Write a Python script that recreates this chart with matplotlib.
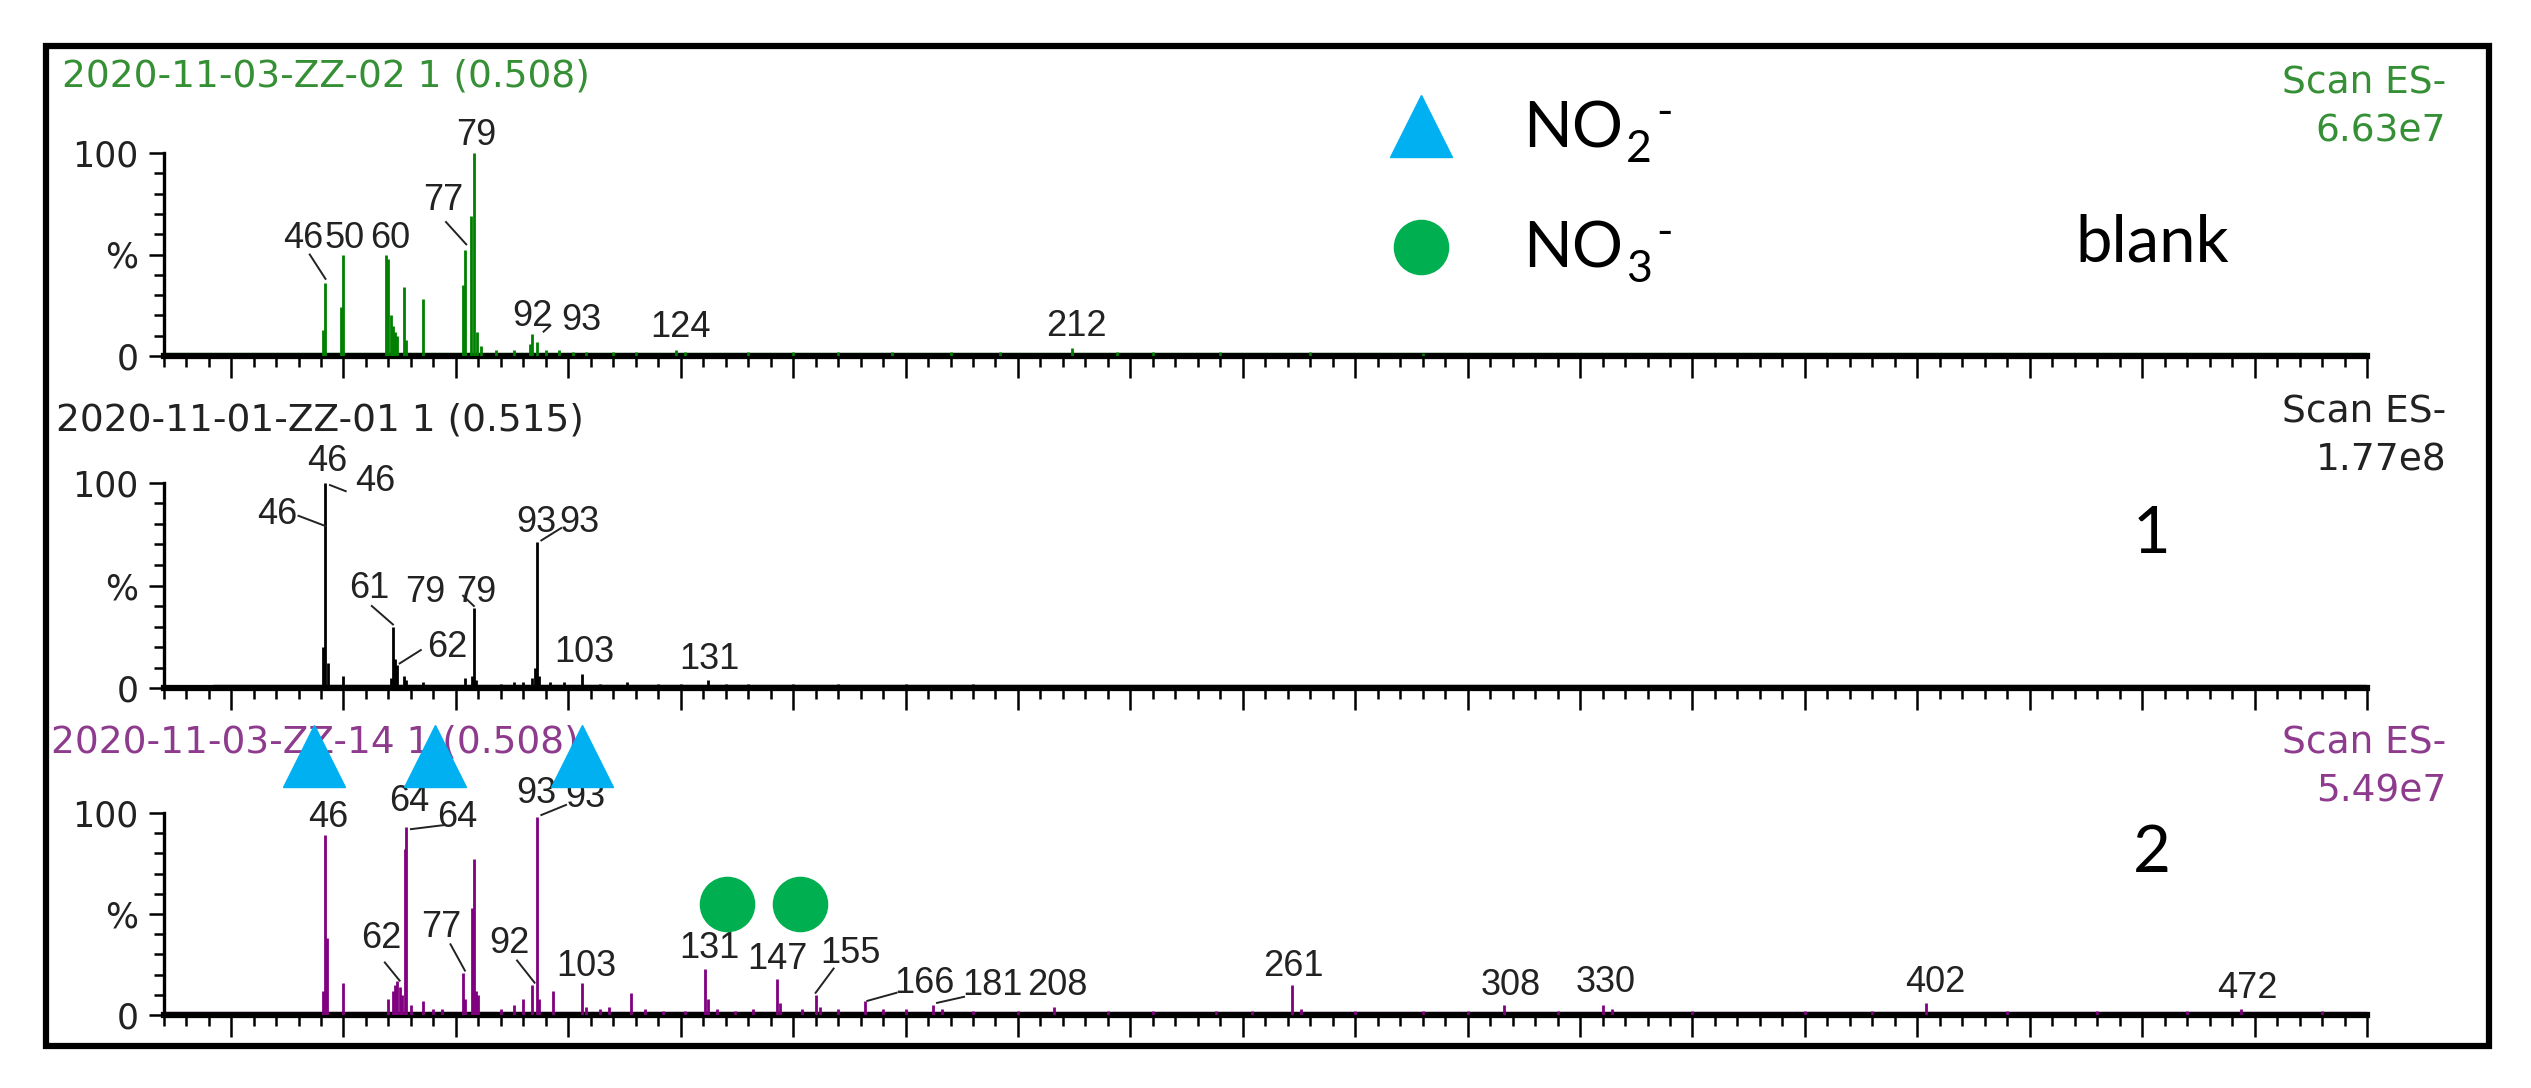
import matplotlib
matplotlib.use('Agg')
import matplotlib.pyplot as plt
from matplotlib import font_manager
from matplotlib.ticker import MultipleLocator, FixedLocator
from matplotlib.patches import Rectangle

# ---- data (m/z, relative intensity %) ----
blank_mz = [45.5, 46, 49.5, 50, 59.5, 60, 60.5, 61, 61.5, 62, 63.5, 64, 67.7,
            76.5, 77, 78.3, 79, 79.7, 80.5, 84, 88, 91.5, 92, 93, 95, 98, 101,
            104, 110, 115, 124, 126, 140, 150, 160, 172, 185, 196, 212, 222,
            230, 245, 265, 290]
blank_int = [13, 36, 24, 50, 50, 48, 20, 15, 12, 10, 34, 8, 28,
             35, 52, 69, 100, 12, 5, 3, 3, 6, 11, 7, 3, 3, 2,
             2, 2, 2, 3, 2, 2, 2, 2, 2, 2, 2, 4, 2,
             2, 2, 2, 1.5]

s1_mz = [45.5, 46, 46.5, 50, 60.5, 61, 61.5, 62, 63.5, 64, 67.7, 77, 78.5,
         79, 79.5, 85, 88, 90, 92, 92.6, 93, 93.5, 96, 99, 103, 107, 113,
         120, 125, 131, 135, 140, 150, 160, 175, 190, 230, 260]
s1_int = [20, 100, 12, 6, 5, 30, 14, 11, 6, 4, 3, 5, 6,
          39, 4, 2, 3, 3, 5, 10, 71, 6, 3, 3, 7, 2, 3,
          2, 2, 4, 2, 2, 2, 2, 2, 2, 1.5, 1.5]

s2_mz = [45.5, 46, 46.3, 50, 60, 61, 61.5, 62, 62.5, 63, 63.6, 64, 65, 67.7,
         70, 72, 76.5, 77, 78.5, 79, 79.5, 80, 85, 88, 90, 92, 93, 93.5,
         96.5, 103, 104, 107, 109, 114, 117, 121, 126, 130.5, 131, 133, 137,
         141, 146.5, 147, 152, 155, 156, 160, 166, 170, 175, 181, 183, 190,
         200, 208, 220, 230, 244, 252, 261, 263, 275, 290, 300, 308, 320,
         330, 332, 350, 375, 390, 402, 420, 440, 460, 472, 490]
s2_int = [12, 89, 38, 16, 8, 12, 15, 17, 14, 10, 82, 93, 5, 7,
          3, 3, 21, 8, 53, 77, 12, 10, 3, 5, 8, 15, 98, 8,
          12, 16, 4, 3, 4, 11, 3, 2, 2, 23, 8, 3, 2,
          3, 18, 6, 3, 10, 4, 3, 7, 3, 3, 5, 3, 2,
          2, 4, 2, 2, 2, 2, 15, 3, 2, 2, 2, 5, 2,
          5, 3, 2, 2, 2, 6, 2, 2, 2, 3, 2]

scan_ranges = [(10, 500), (21, 500), (10, 500)]
titles = ['2020-11-03-ZZ-02 1 (0.508)', '2020-11-01-ZZ-01 1 (0.515)',
          '2020-11-03-ZZ-14 1 (0.508)']
tic_values = ['6.63e7', '1.77e8', '5.49e7']
sample_names = ['blank', '1', '2']
ion_names = [('NO', '2', '-'), ('NO', '3', '-')]

# peak labels: text, x (m/z of text centre), y (% of text bottom)
blank_labels = [('46', 41, 53), ('50', 50.2, 53), ('60', 60.3, 53),
                ('77', 72.1, 72), ('79', 79.5, 104), ('92', 92, 15),
                ('93', 103, 13), ('124', 125, 9.5), ('212', 213, 10)]
blank_leaders = [(42.5, 50, 46, 38), (72.8, 66, 77.3, 55), (94.5, 12, 96, 15)]

s1_labels = [('46', 46.4, 106), ('46', 57, 96), ('46', 35.2, 80),
             ('61', 55.8, 44), ('62', 73, 15), ('79', 68.2, 42),
             ('79', 79.5, 42), ('93', 92.9, 76), ('93', 102.5, 76),
             ('103', 103.5, 12.5), ('131', 131.4, 9.5)]
s1_leaders = [(50.5, 96, 47, 99), (40, 84, 46, 79), (56.3, 40, 61, 31),
              (67.2, 18.5, 62.5, 12), (76.6, 45, 79, 40), (98.4, 78, 94, 72)]

s2_labels = [('46', 46.6, 93), ('64', 64.6, 101), ('64', 75.2, 93),
             ('62', 58.4, 33), ('77', 71.8, 38.5), ('92', 86.9, 30.5),
             ('93', 92.9, 105), ('93', 103.8, 103), ('103', 104.1, 19.5),
             ('131', 131.4, 28), ('147', 146.4, 23), ('155', 162.7, 25.5),
             ('166', 179.3, 11), ('181', 194.3, 10), ('208', 208.8, 10),
             ('261', 261.3, 19.5), ('308', 309.6, 10), ('330', 330.8, 11.5),
             ('402', 404, 11.5), ('472', 473.5, 8.5)]
s2_leaders = [(72.3, 94, 65, 92), (59.2, 26, 62.5, 17), (73.8, 35, 77, 22),
              (88.6, 27, 92.5, 16), (99.5, 104, 94, 99), (159, 23, 155, 11),
              (173, 11, 166.5, 7), (188, 9, 182, 6)]

no2_marker_mz = [43.5, 70.4, 103.1]
no3_marker_mz = [135.3, 151.6]

# ---- fonts ----
names = {f.name for f in font_manager.fontManager.ttflist}
label_font = 'Liberation Sans'
wide_font = 'DejaVu Sans'
office_font = 'Lato' if 'Lato' in names else 'DejaVu Sans'
plt.rcParams['font.family'] = [wide_font]

GREEN = '#008000'
GREEN_TXT = '#359035'
PURPLE = '#800080'
PURPLE_TXT = '#8e3b8e'
BLUE = '#00b0f0'
OFFICE_GREEN = '#00b050'
INK = '#222222'

W, H = 2531, 1088
fig = plt.figure(figsize=(W / 100, H / 100), dpi=100)

# panel geometry in pixels: (y of 0 %, y of 100 %)
x_left, x_right = 163.6, 2367
panels = [(356, 153), (688, 483), (1015, 813)]
title_gap = [66, 52, 60]
title_x = [-0.046, -0.049, -0.051]

spectra = [(blank_mz, blank_int), (s1_mz, s1_int), (s2_mz, s2_int)]
colours = [GREEN, 'black', PURPLE]
text_colours = [GREEN_TXT, INK, PURPLE_TXT]
labels = [blank_labels, s1_labels, s2_labels]
leaders = [blank_leaders, s1_leaders, s2_leaders]

axes = []
for i, (y0, y100) in enumerate(panels):
    ax = fig.add_axes([x_left / W, 1 - y0 / H, (x_right - x_left) / W, (y0 - y100) / H])
    axes.append(ax)
    mz, inten = spectra[i]
    lo, hi = scan_ranges[i]
    # baseline of the profile
    ax.plot([lo, hi], [1.2, 1.2], color=colours[i], lw=2.4, solid_capstyle='butt', zorder=2)
    ax.vlines(mz, 0, inten, color=colours[i], lw=2.0, zorder=3)

    ax.set_xlim(10, 500)
    ax.set_ylim(0, 100)
    for side in ('top', 'right'):
        ax.spines[side].set_visible(False)
    ax.spines['bottom'].set_linewidth(4.5)
    ax.spines['left'].set_linewidth(2.4)
    ax.spines['left'].set_bounds(0, 100)
    ax.xaxis.set_major_locator(MultipleLocator(25))
    ax.xaxis.set_minor_locator(MultipleLocator(5))
    ax.set_xticklabels([])
    ax.tick_params(axis='x', which='major', direction='out', length=16, width=1.8)
    ax.tick_params(axis='x', which='minor', direction='out', length=8, width=1.8)
    ax.yaxis.set_major_locator(FixedLocator([0, 50, 100]))
    ax.set_yticklabels(['0', '%', '100'])
    ax.yaxis.set_minor_locator(MultipleLocator(10))
    ax.tick_params(axis='y', which='major', direction='out', length=11, width=1.8,
                   pad=7, labelsize=25, labelcolor=INK)
    ax.tick_params(axis='y', which='minor', direction='out', length=7, width=1.8)
    ax.patch.set_alpha(0)

    for txt, tx, ty in labels[i]:
        ax.text(tx, ty, txt, ha='center', va='baseline', fontsize=26,
                family=label_font, color=INK, clip_on=False, zorder=5)
    for x0, ya, x1, yb in leaders[i]:
        ax.plot([x0, x1], [ya, yb], color=INK, lw=1.4, clip_on=False, zorder=4)

    # header texts
    span = y0 - y100
    ax.text(title_x[i], 1.0 + title_gap[i] / span, titles[i], transform=ax.transAxes,
            ha='left', va='baseline', fontsize=27, color=text_colours[i])
    ax.text(1.036, 1.0 + 60 / span, 'Scan ES-', transform=ax.transAxes,
            ha='right', va='baseline', fontsize=27, color=text_colours[i])
    ax.text(1.036, 1.0 + 12 / span, tic_values[i], transform=ax.transAxes,
            ha='right', va='baseline', fontsize=27, color=text_colours[i])

# sample names
name_y = [262, 553, 872]
for name, ny in zip(sample_names, name_y):
    fig.text(2152 / W, 1 - ny / H, name, ha='center', va='baseline',
             fontsize=47, family=office_font)

# NO2- / NO3- markers on spectrum 2
ax2 = axes[2]
ax2.plot(no2_marker_mz, [128] * len(no2_marker_mz), linestyle='none', marker='^',
         markersize=44, color=BLUE, clip_on=False, zorder=6)
ax2.plot(no3_marker_mz, [55] * len(no3_marker_mz), linestyle='none', marker='o',
         markersize=39, color=OFFICE_GREEN, clip_on=False, zorder=6)

# legend
fig.lines.append(plt.Line2D([1421 / W], [1 - 126 / H], marker='^', markersize=44,
                            color=BLUE, linestyle='none', transform=fig.transFigure))
fig.lines.append(plt.Line2D([1421 / W], [1 - 247 / H], marker='o', markersize=39,
                            color=OFFICE_GREEN, linestyle='none', transform=fig.transFigure))
legend_base = [148, 268]
for (main, sub, sup), base in zip(ion_names, legend_base):
    yb = 1 - base / H
    t = fig.text(1523 / W, yb, main, ha='left', va='baseline', fontsize=46,
                 family=office_font)
    s = axes[0].annotate(sub, xy=(1, yb), xycoords=(t, 'figure fraction'),
                         xytext=(3, -14), textcoords='offset pixels', ha='left',
                         va='baseline', fontsize=32, family=office_font,
                         annotation_clip=False)
    axes[0].annotate(sup, xy=(1, yb), xycoords=(s, 'figure fraction'),
                     xytext=(4, 22), textcoords='offset pixels', ha='left',
                     va='baseline', fontsize=32, family=office_font,
                     annotation_clip=False)

# outer frame
fig.patches.append(Rectangle((46 / W, 1 - 1046 / H), (2489 - 46) / W, (1046 - 46) / H,
                             transform=fig.transFigure, fill=False, lw=4.5,
                             edgecolor='black'))

fig.savefig('out.png', dpi=100, facecolor='white')
